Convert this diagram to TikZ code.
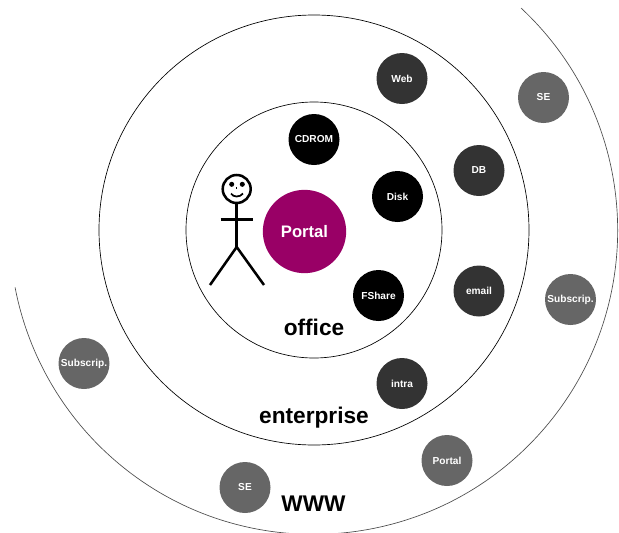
\documentclass[tikz,border=0pt]{standalone}
\usepackage{fontspec}
\setmainfont{Liberation Sans}
\definecolor{wwwgray}{HTML}{666666}
\definecolor{entgray}{HTML}{333333}
\definecolor{portalpurple}{HTML}{990066}
\tikzset{
  x=0.75pt,y=-0.75pt,
  res/.style={circle,inner sep=0pt,minimum size=38.25pt,text=white,font=\bfseries\fontsize{7.6pt}{8pt}\selectfont},
  wwwres/.style={res,fill=wwwgray},
  entres/.style={res,fill=entgray},
  officeres/.style={res,fill=black},
  ring/.style={draw=black,line width=0.5pt},
  outerring/.style={draw=black!70,line width=0.5pt},
  zone/.style={font=\bfseries\fontsize{17pt}{19pt}\selectfont},
  limb/.style={draw=black,line width=1.9pt},
}
\begin{document}
\begin{tikzpicture}
\useasboundingbox (0,0) rectangle (619,533);
\begin{scope}
\clip (0,0) rectangle (619,533);
\draw[outerring] (521,8) arc[start angle=47,end angle=-169.2,radius=228pt];
\end{scope}
\node[circle,ring,inner sep=0pt,minimum size=322.5pt] (enterprise) at (314,230) {};
\node[circle,ring,inner sep=0pt,minimum size=192pt] (office) at (314,230) {};
\node[zone] (officelabel) at (314,327.5) {office};
\node[zone] (enterpriselabel) at (314,418) {enterprise};
\node[zone] (wwwlabel) at (313.5,503.5) {WWW};
\node[circle,fill=portalpurple,inner sep=0pt,minimum size=62.5pt,text=white,font=\bfseries\fontsize{12.5pt}{14pt}\selectfont] (portal) at (304.5,231.5) {Portal};
\node[officeres] (cdrom) at (314,139.5) {CDROM};
\node[officeres] (disk) at (397.5,196.5) {Disk};
\node[officeres] (fshare) at (378.5,295.5) {FShare};
\node[entres] (web) at (402,78.5) {Web};
\node[entres] (db) at (479,170.5) {DB};
\node[entres] (email) at (479,291) {email};
\node[entres] (intra) at (402,383.5) {intra};
\node[wwwres] (se1) at (543.5,97.5) {SE};
\node[wwwres] (sub1) at (570.5,299.5) {Subscrip.};
\node[wwwres] (portal2) at (447,460.5) {Portal};
\node[wwwres] (se2) at (245,487.5) {SE};
\node[wwwres] (sub2) at (84,363.5) {Subscrip.};
% stick figure
\draw[limb] (236.7,189) circle[radius=10.5pt];
\draw[limb] (236.7,203.5) -- (236.7,247);
\draw[limb] (220.7,219.3) -- (252.7,219.3);
\draw[limb] (210,285) -- (236.7,247) -- (264,285);
\fill (231.7,184.3) circle[radius=1.9pt];
\fill (242.3,184.3) circle[radius=1.9pt];
\draw[line width=1.1pt] (236.7,187) -- (236.7,189);
\draw[line width=1.3pt] (231,193.5) .. controls (233,197.5) and (240,197.5) .. (243,193.5);
\end{tikzpicture}
\end{document}
